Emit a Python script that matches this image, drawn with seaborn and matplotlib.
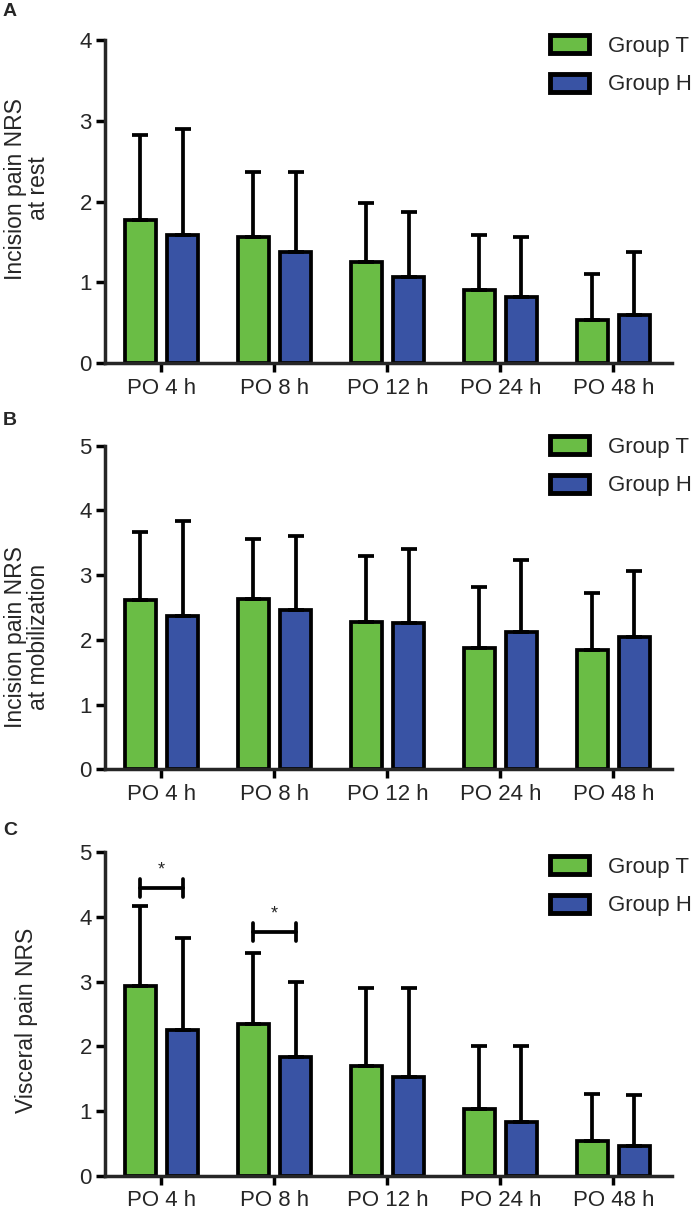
import matplotlib
matplotlib.use("Agg")
import matplotlib.pyplot as plt
import matplotlib.patches as mpatches
import numpy as np
import pandas as pd
import seaborn as sns

# Data (mean and upper SD bar)
times = ["PO 4 h", "PO 8 h", "PO 12 h", "PO 24 h", "PO 48 h"]
groups = ["Group T", "Group H"]
colors = ["#6abd45", "#3953a4"]

rest_t = [1.77, 1.56, 1.25, 0.90, 0.53]
rest_h = [1.58, 1.37, 1.07, 0.82, 0.60]
rest_t_sd = [1.05, 0.81, 0.73, 0.69, 0.57]
rest_h_sd = [1.32, 0.99, 0.80, 0.74, 0.78]

mob_t = [2.62, 2.63, 2.28, 1.87, 1.85]
mob_h = [2.37, 2.46, 2.26, 2.12, 2.05]
mob_t_sd = [1.04, 0.93, 1.02, 0.95, 0.87]
mob_h_sd = [1.47, 1.14, 1.15, 1.12, 1.02]

visc_t = [2.94, 2.34, 1.70, 1.03, 0.53]
visc_h = [2.25, 1.83, 1.53, 0.83, 0.46]
visc_t_sd = [1.23, 1.11, 1.20, 0.98, 0.74]
visc_h_sd = [1.43, 1.17, 1.37, 1.18, 0.79]

# significance brackets in panel C: (time index, height)
visc_sig = [(0, 4.45), (1, 3.77)]

W, H = 696, 1210
LW = 2.7
FS = 16

sns.set_style("ticks")
plt.rcParams["font.family"] = ["Liberation Sans", "DejaVu Sans"]


def panel(fig, rect, letter, letter_y, t_vals, h_vals, t_sd, h_sd, ymax,
          ylabel, label_xy, leg_top, sig=None):
    # rect is given in pixels: left, top, right, bottom
    l, t, r, b = rect
    ax = fig.add_axes([l / W, 1 - b / H, (r - l) / W, (b - t) / H])

    df = pd.DataFrame({
        "time": times * 2,
        "group": [groups[0]] * len(times) + [groups[1]] * len(times),
        "value": t_vals + h_vals,
    })
    sns.barplot(data=df, x="time", y="value", hue="group", order=times,
                hue_order=groups, palette=colors, width=0.75, gap=0.27,
                errorbar=None, edgecolor="black", linewidth=LW,
                saturation=1, legend=False, ax=ax)

    # upper-only SD bars
    for cont, sd in zip(ax.containers, [t_sd, h_sd]):
        xs = [p.get_x() + p.get_width() / 2 for p in cont]
        ys = [p.get_height() for p in cont]
        ax.errorbar(xs, ys, yerr=[np.zeros(len(sd)), sd], fmt="none",
                    ecolor="black", elinewidth=LW, capsize=5.5, capthick=LW)

    if sig:
        c0 = [p.get_x() + p.get_width() / 2 for p in ax.containers[0]]
        c1 = [p.get_x() + p.get_width() / 2 for p in ax.containers[1]]
        for i, y in sig:
            x1, x2 = c0[i], c1[i]
            ax.plot([x1, x2], [y, y], color="black", lw=LW)
            ax.plot([x1, x1], [y - 0.14, y + 0.14], color="black", lw=LW)
            ax.plot([x2, x2], [y - 0.14, y + 0.14], color="black", lw=LW)
            ax.text((x1 + x2) / 2, y + 0.27, "*", ha="center", va="center",
                    fontsize=13)

    ax.set_ylim(0, ymax)
    ax.set_xlim(-0.5, 4.52)
    ax.set_yticks(range(ymax + 1))
    ax.set_xlabel("")
    ax.set_ylabel(ylabel, fontsize=FS + 0.5, linespacing=1.0)
    ax.yaxis.set_label_coords(*label_xy)
    sns.despine(ax=ax)
    for s in ["left", "bottom"]:
        ax.spines[s].set_linewidth(2.5)
    ax.tick_params(axis="both", direction="out", length=6.5, width=2.5,
                   labelsize=FS, color="black")
    ax.tick_params(axis="x", pad=4)
    ax.tick_params(axis="y", pad=3)

    handles = [mpatches.Patch(facecolor=c, edgecolor="black", linewidth=3.5,
                              label=g) for c, g in zip(colors, groups)]
    fig.legend(handles=handles, loc="upper left",
               bbox_to_anchor=(550 / W, 1 - leg_top / H),
               bbox_transform=fig.transFigure, frameon=False, fontsize=FS,
               handlelength=1.75, handleheight=0.9, handletextpad=0.85,
               labelspacing=0.75, borderpad=0, borderaxespad=0)

    fig.text(3 / W, 1 - letter_y / H, letter, fontsize=14, fontweight="bold",
             ha="left", va="top")
    return ax


fig = plt.figure(figsize=(W / 100, H / 100), dpi=100)

panel(fig, (105, 40, 672, 363), "A", 3, rest_t, rest_h, rest_t_sd, rest_h_sd,
      4, "Incision pain NRS\nat rest", (-0.097, 0.54), 35)
panel(fig, (105, 445.7, 672, 769.3), "B", 412, mob_t, mob_h, mob_t_sd,
      mob_h_sd, 5, "Incision pain NRS\nat mobilization", (-0.097, 0.41), 436)
panel(fig, (105, 852.3, 672, 1175.7), "C", 822, visc_t, visc_h, visc_t_sd,
      visc_h_sd, 5, "Visceral pain NRS", (-0.118, 0.48), 856, sig=visc_sig)

fig.savefig("out.png", dpi=100)
